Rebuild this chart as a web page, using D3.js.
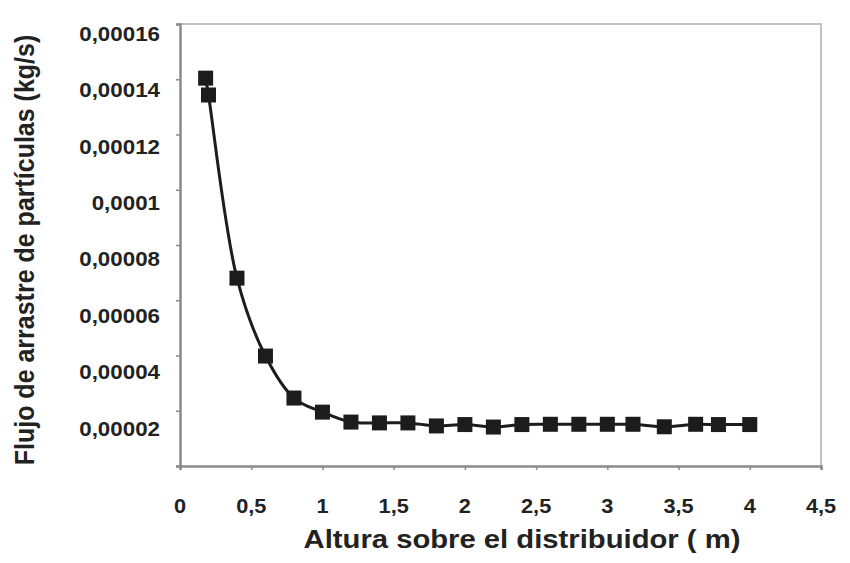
<!DOCTYPE html>
<html>
<head>
<meta charset="utf-8">
<script src="https://cdn.jsdelivr.net/npm/d3@7"></script>
<style>
  html, body { margin: 0; padding: 0; background: #fff; }
  svg { display: block; }
  text { font-family: "Liberation Sans", Arial, sans-serif; fill: #222; }
</style>
</head>
<body>
<svg id="chart" width="850" height="563"></svg>
<script>
// Particle entrainment flow vs. height above the distributor
const alturas = [0.18, 0.2, 0.4, 0.6, 0.8, 1.0, 1.2, 1.4, 1.6, 1.8, 2.0, 2.2, 2.4, 2.6, 2.8, 3.0, 3.18, 3.4, 3.62, 3.78, 4.0];
const flujos  = [0.0001404, 0.0001343, 0.000068, 0.0000398, 0.0000246, 0.0000195, 0.0000159, 0.0000156,
                 0.0000156, 0.0000145, 0.0000150, 0.0000141, 0.0000150, 0.0000151, 0.0000151, 0.0000151,
                 0.0000151, 0.0000142, 0.0000151, 0.0000150, 0.0000150];
const xTicks = [0, 0.5, 1, 1.5, 2, 2.5, 3, 3.5, 4, 4.5];
const yTicks = [0.00002, 0.00004, 0.00006, 0.00008, 0.0001, 0.00012, 0.00014, 0.00016];
const yTickLabels = ["0,00002", "0,00004", "0,00006", "0,00008", "0,0001", "0,00012", "0,00014", "0,00016"];
const xTickLabels = ["0", "0,5", "1", "1,5", "2", "2,5", "3", "3,5", "4", "4,5"];

const plot = { left: 180, right: 821, top: 24, bottom: 466 };
const svg = d3.select("#chart");

const x = d3.scaleLinear().domain([0, 4.5]).range([plot.left, plot.right]);
const y = d3.scaleLinear().domain([0, 0.00016]).range([plot.bottom, plot.top]);
// tick labels sit slightly below their ticks, with wider spacing than the ticks
const yLabel = d3.scaleLinear().domain([0.00016, 0.00002]).range([33.5, 428.5]);

// plot frame (top and right)
svg.append("path")
  .attr("d", `M${plot.left},${plot.top}H${plot.right}V${plot.bottom}`)
  .attr("fill", "none").attr("stroke", "#c2c2c2").attr("stroke-width", 2);

// y axis
const yAxis = svg.append("g").attr("transform", `translate(${plot.left},0)`)
  .call(d3.axisLeft(y).tickValues([0].concat(yTicks)).tickSize(4).tickFormat(""));
yAxis.select(".domain").attr("stroke", "#8a8a8a").attr("stroke-width", 2.5);
yAxis.selectAll(".tick line").attr("stroke", "#8a8a8a").attr("stroke-width", 1.5);

// x axis
const xAxis = svg.append("g").attr("transform", `translate(0,${plot.bottom})`)
  .call(d3.axisBottom(x).tickValues(xTicks).tickSize(4).tickFormat(""));
xAxis.select(".domain").attr("stroke", "#8a8a8a").attr("stroke-width", 2.5);
xAxis.selectAll(".tick line").attr("stroke", "#8a8a8a").attr("stroke-width", 1.5);

// y tick labels (slightly wide lettering)
svg.append("g").selectAll("text").data(yTicks).join("text")
  .attr("transform", d => `translate(160,${yLabel(d)}) scale(1.09,1)`)
  .attr("dy", "0.35em")
  .attr("text-anchor", "end")
  .attr("font-size", 20.5).attr("font-weight", "bold")
  .text((d, i) => yTickLabels[i]);

// x tick labels
svg.append("g").selectAll("text").data(xTicks).join("text")
  .attr("transform", d => `translate(${x(d)},513) scale(1.06,1)`)
  .attr("text-anchor", "middle")
  .attr("font-size", 20.5).attr("font-weight", "bold")
  .text((d, i) => xTickLabels[i]);

// axis titles
svg.append("text")
  .attr("transform", "translate(522,548) scale(1.17,1)")
  .attr("text-anchor", "middle")
  .attr("font-size", 25).attr("font-weight", "bold")
  .text("Altura sobre el distribuidor ( m)");

svg.append("text")
  .attr("transform", "translate(34,250) rotate(-90) scale(1,1.12)")
  .attr("text-anchor", "middle")
  .attr("font-size", 25).attr("font-weight", "bold")
  .text("Flujo de arrastre de partículas (kg/s)");

// data series
const pts = alturas.map((a, i) => [a, flujos[i]]);
const line = d3.line().x(d => x(d[0])).y(d => y(d[1])).curve(d3.curveCatmullRom.alpha(0.5));

svg.append("path").datum(pts)
  .attr("d", line)
  .attr("fill", "none").attr("stroke", "#1c1c1c").attr("stroke-width", 3);

const s = 15;
svg.append("g").selectAll("rect").data(pts).join("rect")
  .attr("x", d => x(d[0]) - s / 2).attr("y", d => y(d[1]) - s / 2)
  .attr("width", s).attr("height", s)
  .attr("fill", "#1c1c1c");
</script>
</body>
</html>
